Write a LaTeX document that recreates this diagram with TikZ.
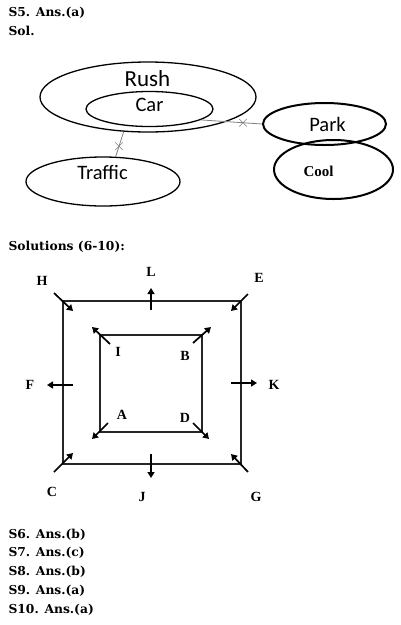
\documentclass[tikz,border=0pt]{standalone}
\usepackage{fontspec}
\newfontfamily\calfont{Carlito}
\newfontfamily\labfont{Liberation Serif}
\newfontfamily\headfont{DejaVu Serif}
\usetikzlibrary{arrows.meta}
\usetikzlibrary{shapes.geometric}
\usetikzlibrary{shapes.misc}

\begin{document}
\begin{tikzpicture}[x=1pt,y=-1pt,
  oval/.style={draw, ellipse, inner sep=0, line width=1.3pt},
  thickoval/.style={oval, line width=2pt},
  word/.style={anchor=base, font=\calfont\fontsize{20.5}{24}\selectfont},
  head/.style={anchor=base west, font=\headfont\bfseries\fontsize{12.3}{15}\selectfont},
  lab/.style={font=\labfont\bfseries\fontsize{14}{16}\selectfont},
  link/.style={draw=gray, line width=0.8pt},
  xmark/.style={cross out, draw=gray, line width=0.6pt, minimum size=7pt, inner sep=0},
  >={Triangle[length=6pt,width=7pt]}, arr/.style={->, line width=1.7pt},
  box/.style={draw=black!85, line width=1.3pt}]
\useasboundingbox (0,0) rectangle (401,625);
% S5
\node[head] (s5) at (5,16.5) {S5. Ans.(a)};
\node[head] (sol) at (5,35) {Sol.};
\node[oval, minimum width=216, minimum height=70] (rush) at (148,97) {};
\node[oval, minimum width=127, minimum height=35] (car) at (149.5,109) {};
\node[thickoval, minimum width=123, minimum height=42] (park) at (324.5,124) {};
\node[thickoval, minimum width=119, minimum height=59] (cool) at (333.5,169.5) {};
\node[oval, minimum width=154, minimum height=49] (traffic) at (103,181.5) {};
\node[word, font=\calfont\fontsize{23}{27}\selectfont] (trush) at (147.5,86.5) {Rush};
\node[word] (tcar) at (149.5,111.5) {Car};
\node[word] (tpark) at (327.5,131.7) {Park};
\node[word] (ttraffic) at (102.5,179.3) {Traffic};
\node[anchor=base, font=\labfont\bfseries\fontsize{15}{18}\selectfont] (tcool) at (318.5,176.7) {Cool};
\draw[link] (car.-12) -- node[xmark, pos=0.69] (x1) {} (park.west);
\draw[link] (rush.235) -- node[xmark, pos=0.58] (x2) {} (traffic.63);
% S6-10
\node[head] (solns) at (5,250) {Solutions (6-10):};
\draw[box] (63,301) rectangle (241,464);
\draw[box] (100,335) rectangle (202,432);
\node[lab] (H) at (42,281) {H};
\node[lab] (L) at (151,272) {L};
\node[lab] (E) at (259,278) {E};
\node[lab] (I) at (118,352) {I};
\node[lab] (B) at (185,356) {B};
\node[lab] (F) at (30,385) {F};
\node[lab] (K) at (274,385) {K};
\node[lab] (A) at (122,415) {A};
\node[lab] (D) at (185,418) {D};
\node[lab] (C) at (52,492) {C};
\node[lab] (J) at (142,497) {J};
\node[lab] (G) at (256,497) {G};
\coordinate (h0) at (54,293);  \coordinate (h1) at (73,311);
\coordinate (l0) at (151,310); \coordinate (l1) at (151,288);
\coordinate (e0) at (248,294); \coordinate (e1) at (231,311);
\coordinate (i0) at (110,344); \coordinate (i1) at (92,327);
\coordinate (b0) at (193,343); \coordinate (b1) at (211,327);
\coordinate (f0) at (73,385);  \coordinate (f1) at (47,385);
\coordinate (k0) at (231,383); \coordinate (k1) at (257,383);
\coordinate (a0) at (108,423); \coordinate (a1) at (92,439);
\coordinate (d0) at (193,423); \coordinate (d1) at (209,439);
\coordinate (c0) at (54,472);  \coordinate (c1) at (73,453);
\coordinate (j0) at (151,454); \coordinate (j1) at (151,478);
\coordinate (g0) at (248,472); \coordinate (g1) at (231,454);
\foreach \p in {h,l,e,i,b,f,k,a,d,c,j,g}
  \draw[arr] (\p0) -- (\p1);
\node[head] (s6) at (5,538) {S6. Ans.(b)};
\node[head] (s7) at (5,556.5) {S7. Ans.(c)};
\node[head] (s8) at (5,575.5) {S8. Ans.(b)};
\node[head] (s9) at (5,594) {S9. Ans.(a)};
\node[head] (s10) at (5,613) {S10. Ans.(a)};
\end{tikzpicture}
\end{document}
